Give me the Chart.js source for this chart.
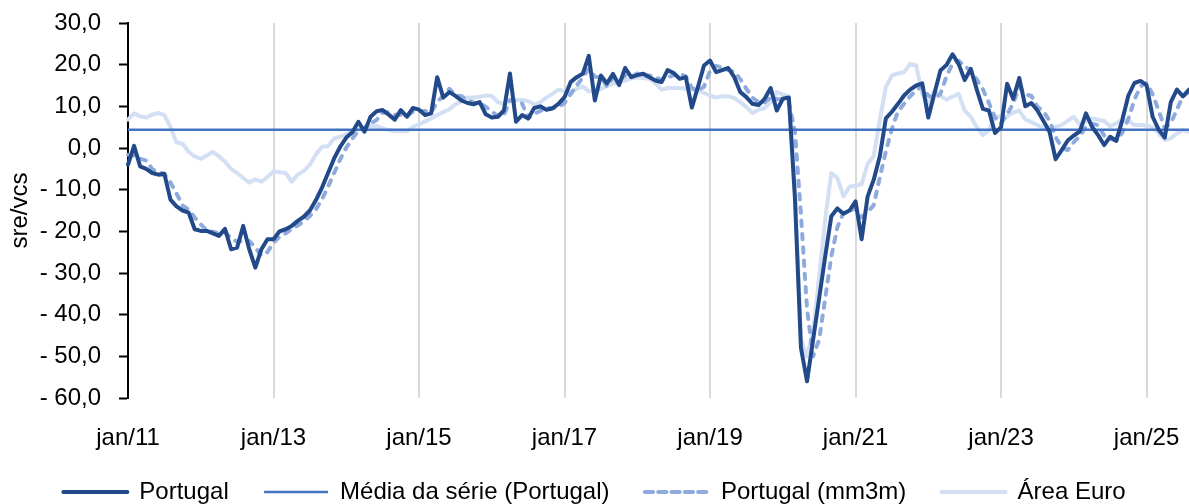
<!DOCTYPE html>
<html lang="pt">
<head>
<meta charset="utf-8">
<title>Portugal vs Área Euro</title>
<script src="https://cdn.jsdelivr.net/npm/chart.js@4.4.1/dist/chart.umd.min.js"></script>
<style>
    html, body { margin: 0; padding: 0; background: #ffffff; }
    #wrap { width: 1189px; height: 504px; }
</style>
</head>
<body>
<div id="wrap"><canvas id="chart" width="1189" height="504"></canvas></div>
<script>
// Month categories: jan/11 .. ago/25
const monthNames = ['jan', 'fev', 'mar', 'abr', 'mai', 'jun', 'jul', 'ago', 'set', 'out', 'nov', 'dez'];
const firstYear = 11;
const monthCount = 176;
const categories = [];
for (let i = 0; i < monthCount; i++) {
    categories.push(monthNames[i % 12] + '/' + (firstYear + Math.floor(i / 12)));
}

// Axis ticks
const yMin = -60;
const yMax = 30;
const yStep = 10;
const xTickEvery = 24; // jan of odd years

// Series (sre/vcs)
const portugal = [
    -4.0, 0.5, -4.4, -5.0, -6.0, -6.4, -6.2, -12.4, -14.0, -15.0, -15.5, -19.5,
    -19.9, -19.9, -20.5, -21.1, -19.4, -24.3, -23.9, -18.7, -24.3, -28.7, -24.3, -21.9,
    -21.9, -20.0, -19.5, -18.7, -17.5, -16.5, -15.0, -12.5, -9.5, -6.0, -2.5, 0.3,
    2.5, 3.8, 6.3, 3.9, 7.5, 8.8, 9.1, 8.0, 6.8, 9.1, 7.5, 9.6,
    9.2, 7.9, 8.3, 17.0, 12.1, 13.4, 12.5, 11.4, 10.8, 10.5, 11.0, 8.1,
    7.3, 7.5, 9.0, 17.9, 6.3, 7.9, 7.1, 9.6, 10.0, 9.2, 9.5, 10.6,
    12.2, 15.8, 17.0, 17.8, 22.1, 11.4, 17.4, 15.5, 17.8, 15.1, 19.2, 17.0,
    17.5, 17.8, 17.0, 16.2, 15.8, 18.7, 18.0, 16.6, 17.0, 9.7, 14.6, 19.8,
    21.0, 18.2, 18.7, 19.2, 17.0, 13.4, 12.2, 10.6, 10.3, 11.8, 14.4, 9.0,
    11.8, 12.1, -12.0, -48.0, -56.0, -46.0, -36.0, -26.0, -16.4, -14.5, -15.8, -15.0,
    -12.8, -21.9, -11.6, -7.6, -2.0, 7.1, 8.7, 10.6, 12.6, 14.0, 15.0, 15.5,
    7.3, 13.0, 18.6, 19.9, 22.5, 20.2, 16.3, 19.0, 14.0, 9.4, 9.0, 3.6,
    5.0, 15.4, 11.8, 16.8, 10.0, 10.8, 9.0, 6.5, 3.9, -2.7, -0.5, 1.8,
    3.0, 4.0, 8.3, 5.1, 3.1, 0.7, 2.7, 1.7, 6.7, 12.6, 15.6, 16.1,
    15.1, 7.5, 4.4, 2.5, 11.0, 14.0, 12.4, 14.0
];

const mediaSerie = 4.4;

const portugalMm3m = [
    -1.6, -1.8, -2.6, -3.0, -5.1, -5.8, -6.2, -8.3, -10.9, -13.8, -14.8, -16.7,
    -18.3, -19.8, -20.1, -20.5, -20.3, -21.6, -22.5, -22.3, -22.3, -23.9, -25.8, -25.0,
    -22.7, -21.3, -20.5, -19.4, -18.6, -17.6, -16.3, -14.7, -12.3, -9.3, -6.0, -2.7,
    0.1, 2.2, 4.2, 4.7, 5.9, 6.7, 8.5, 8.6, 8.0, 8.0, 7.8, 8.7,
    8.8, 8.9, 8.5, 11.1, 12.5, 14.2, 12.7, 12.4, 11.6, 10.9, 10.8, 9.9,
    8.8, 7.6, 7.9, 11.5, 11.1, 10.7, 7.1, 8.2, 8.9, 9.6, 9.6, 9.8,
    10.8, 12.9, 15.0, 16.9, 19.0, 17.1, 17.0, 14.8, 16.9, 16.1, 17.4, 17.1,
    17.9, 17.4, 17.4, 17.0, 16.3, 16.9, 17.5, 17.8, 17.2, 14.4, 13.8, 14.7,
    18.5, 19.7, 19.3, 18.7, 18.3, 16.5, 14.2, 12.1, 11.0, 10.9, 12.2, 11.7,
    11.7, 11.0, 4.0, -16.0, -38.7, -50.0, -46.0, -36.0, -26.1, -19.0, -15.6, -15.1,
    -14.5, -16.6, -15.4, -13.7, -7.1, -0.8, 4.6, 8.8, 10.6, 12.4, 13.9, 14.8,
    12.6, 11.9, 13.0, 17.2, 20.3, 20.9, 19.7, 18.5, 16.4, 14.1, 10.8, 7.3,
    5.9, 8.0, 10.7, 14.7, 12.9, 12.5, 9.9, 8.8, 6.5, 2.6, 0.2, -0.5,
    1.4, 2.9, 5.1, 5.8, 5.5, 3.0, 2.2, 1.7, 3.7, 7.0, 11.6, 14.8,
    15.6, 12.9, 9.0, 4.8, 6.0, 9.2, 12.5, 13.5
];

const areaEuro = [
    6.8, 8.3, 7.6, 7.3, 8.0, 8.4, 7.9, 5.1, 1.3, 1.0, -0.9, -2.0,
    -2.6, -1.8, -0.9, -2.0, -3.3, -5.0, -6.0, -7.2, -8.3, -7.5, -8.1, -7.0,
    -5.6, -5.8, -6.0, -8.1, -6.4, -5.5, -4.0, -1.5, 0.3, 0.5, 2.3, 2.7,
    3.3, 3.9, 4.5, 5.1, 5.2, 5.3, 4.7, 4.3, 4.0, 4.0, 4.0, 5.1,
    5.7, 6.4, 7.1, 7.9, 8.6, 9.3, 10.5, 11.2, 12.1, 12.1, 12.3, 12.6,
    12.5, 11.0, 10.6, 11.2, 11.6, 11.5, 11.3, 10.4, 11.0, 12.1, 13.0, 14.0,
    13.7, 13.4, 14.2, 14.8, 13.6, 13.6, 14.2, 14.9, 15.4, 15.9, 16.2, 16.7,
    17.0, 16.8, 16.6, 15.5, 14.0, 14.4, 14.4, 14.4, 14.2, 14.0, 13.8, 13.2,
    12.6, 12.1, 12.4, 12.4, 12.0, 11.0, 9.8, 8.4, 9.2, 9.6, 11.0, 13.4,
    12.8, 12.4, -9.0, -46.0, -50.0, -44.0, -31.0, -17.0, -6.0, -7.2, -11.6, -9.3,
    -9.0, -8.7, -3.8, -1.9, 6.7, 14.6, 17.4, 17.9, 18.2, 20.2, 19.8, 13.0,
    10.6, 13.8, 12.5, 11.6, 12.3, 13.0, 9.0, 7.5, 5.0, 3.1, 4.3, 7.5,
    7.6, 7.6, 8.5, 9.0, 6.8, 6.2, 5.5, 4.8, 4.1, 5.1, 5.5, 6.5,
    7.5, 5.5, 6.5, 7.1, 6.8, 6.5, 5.2, 5.9, 6.8, 6.5, 5.5, 5.5,
    5.4, 5.0, 3.5, 1.9, 2.3, 3.5, 4.3, 3.9
];

const seriesLabels = ['Portugal', 'Média da série (Portugal)', 'Portugal (mm3m)', 'Área Euro'];

Chart.defaults.font.family = '"Liberation Sans", Arial, sans-serif';
Chart.defaults.font.size = 24;
Chart.defaults.color = '#000000';

/**
 * Format y tick like "- 10,0"
 */
function formatTick(value) {
    const txt = Math.abs(value).toFixed(1).replace('.', ',');
    return value < 0 ? '- ' + txt : txt;
}

const ctx = document.getElementById('chart');

new Chart(ctx, {
    type: 'line',
    data: {
        labels: categories,
        datasets: [
            {
                label: seriesLabels[0],
                data: portugal,
                borderColor: '#224A8A',
                borderWidth: 4,
                borderJoinStyle: 'round',
                borderCapStyle: 'round'
            },
            {
                label: seriesLabels[1],
                data: new Array(monthCount).fill(mediaSerie),
                borderColor: '#4472C4',
                borderWidth: 2.5
            },
            {
                label: seriesLabels[2],
                data: portugalMm3m,
                borderColor: '#8FAADC',
                borderWidth: 4,
                borderDash: [5.5, 7.8],
                borderJoinStyle: 'round',
                borderCapStyle: 'round'
            },
            {
                label: seriesLabels[3],
                data: areaEuro,
                borderColor: '#D3DFF3',
                borderWidth: 4,
                borderJoinStyle: 'round',
                borderCapStyle: 'round'
            }
        ]
    },
    options: {
        responsive: false,
        devicePixelRatio: 1,
        animation: false,
        elements: {
            point: { radius: 0, hoverRadius: 0 },
            line: { tension: 0 }
        },
        layout: {
            padding: { top: 23, right: 0, bottom: -10, left: 0 }
        },
        scales: {
            x: {
                type: 'category',
                offset: false,
                border: { display: false },
                grid: {
                    drawTicks: false,
                    lineWidth: 2,
                    color: (c) => c.index === 0 ? 'rgba(0,0,0,0)' : '#D9D9D9'
                },
                ticks: {
                    autoSkip: false,
                    maxRotation: 0,
                    minRotation: 0,
                    padding: 26
                },
                afterBuildTicks: (scale) => {
                    scale.ticks = scale.ticks.filter(t => t.value % xTickEvery === 0);
                },
                afterFit: (scale) => {
                    scale.height = 80;
                    scale.paddingLeft = 0;
                    scale.paddingRight = 0;
                }
            },
            y: {
                min: yMin,
                max: yMax,
                border: { display: true, color: '#000000', width: 2 },
                grid: {
                    drawOnChartArea: false,
                    drawTicks: true,
                    tickLength: 9,
                    tickWidth: 2,
                    tickColor: '#000000',
                    color: '#000000'
                },
                ticks: {
                    stepSize: yStep,
                    padding: 18,
                    callback: (v) => formatTick(v)
                },
                title: {
                    display: true,
                    text: 'sre/vcs',
                    padding: { top: 6, bottom: 0 }
                },
                afterFit: (scale) => {
                    scale.width = 128;
                    scale.paddingTop = 0;
                    scale.paddingBottom = 0;
                }
            }
        },
        plugins: {
            tooltip: { enabled: false },
            legend: {
                position: 'bottom',
                align: 'center',
                labels: {
                    boxWidth: 64,
                    boxHeight: 0,
                    padding: 2,
                    generateLabels: (chart) => {
                        const items = Chart.defaults.plugins.legend.labels.generateLabels(chart);
                        // extra room between legend entries
                        return items.map((item, i) => {
                            if (i < items.length - 1) item.text = item.text + '     ';
                            return item;
                        });
                    }
                }
            }
        }
    }
});
</script>
</body>
</html>
